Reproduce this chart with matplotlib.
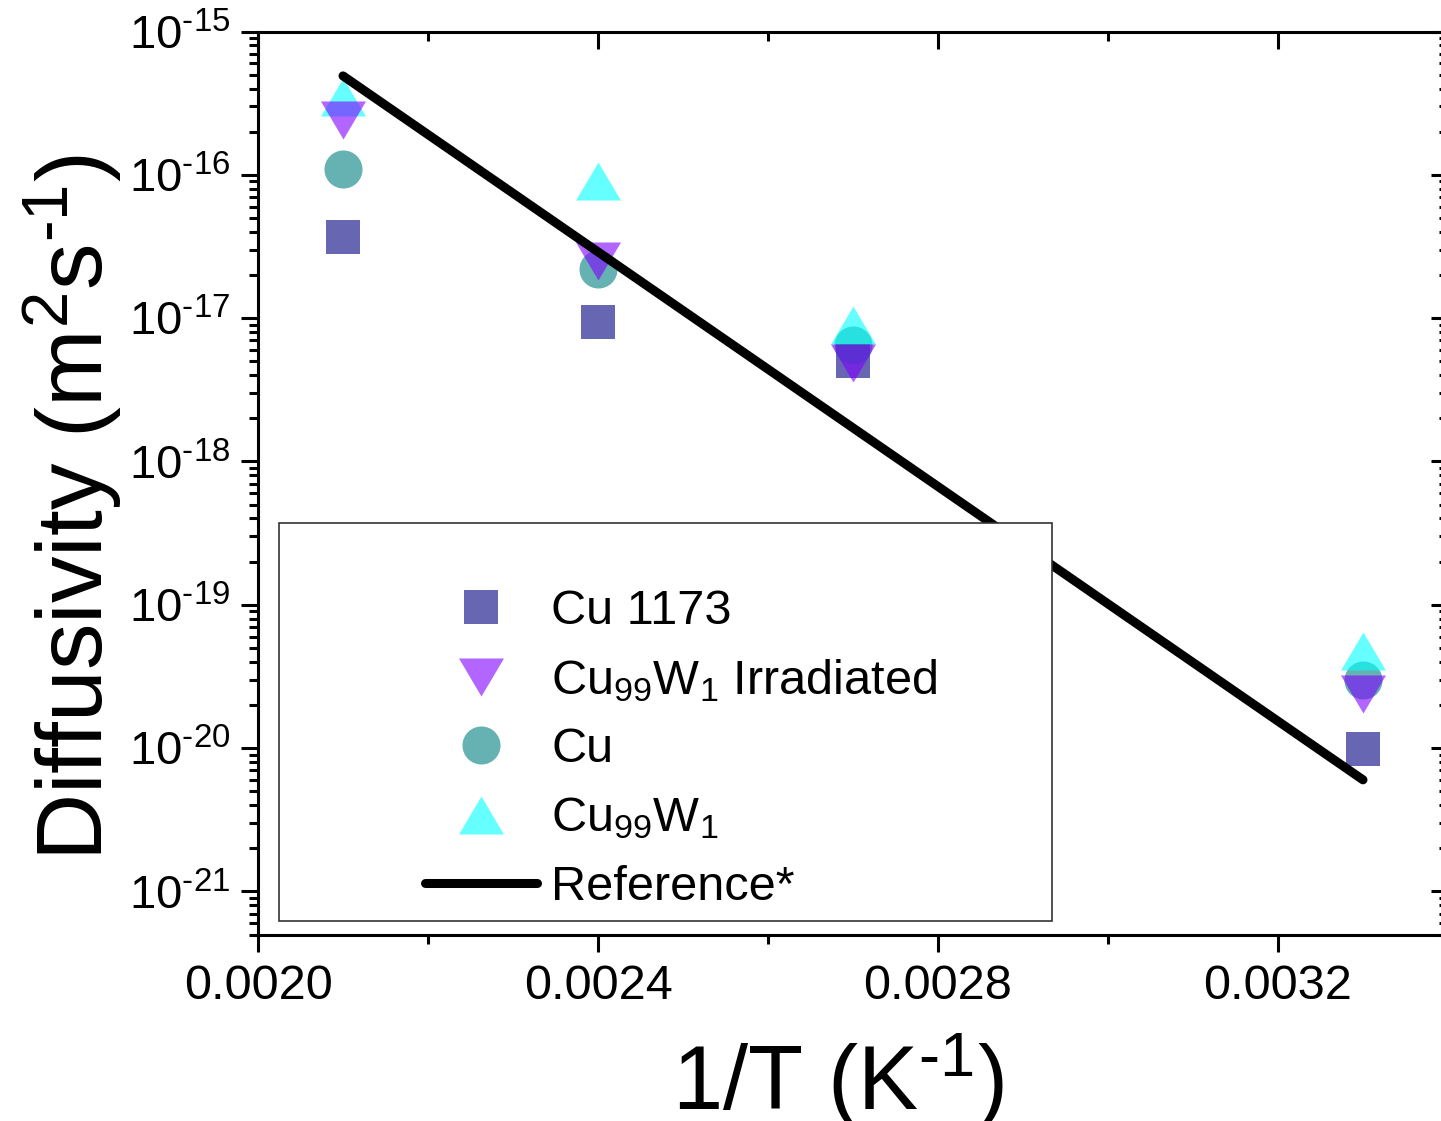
import numpy as np
import matplotlib
matplotlib.use("Agg")
import matplotlib.pyplot as plt
from matplotlib.patches import Rectangle
from matplotlib.ticker import MultipleLocator, FormatStrFormatter, LogLocator, FuncFormatter

plt.rcParams['font.family'] = ['Liberation Sans', 'DejaVu Sans']
plt.rcParams['mathtext.fontset'] = 'custom'
plt.rcParams['mathtext.rm'] = 'Liberation Sans'
plt.rcParams['mathtext.it'] = 'Liberation Sans:italic'
plt.rcParams['mathtext.bf'] = 'Liberation Sans:bold'

# data
inv_T = [0.0021, 0.0024, 0.0027, 0.0033]
cu_1173 = [3.7e-17, 9.4e-18, 5.0e-18, 9.9e-21]
cu = [1.09e-16, 2.2e-17, 6.5e-18, 3.0e-20]
cu99w1 = [3.5e-16, 9.1e-17, 8.9e-18, 4.75e-20]
cu99w1_irr = [2.4e-16, 2.5e-17, 4.9e-18, 2.4e-20]
ref_x = [0.0021, 0.0033]
ref_y = [4.9e-16, 6.0e-21]

lbl_1173 = "Cu 1173"
lbl_irr = r"Cu$_{99}$W$_{1}$ Irradiated"
lbl_cu = "Cu"
lbl_cuw = r"Cu$_{99}$W$_{1}$"
lbl_ref = "Reference*"

DPI = 100
W, H = 1441, 1121
fig = plt.figure(figsize=(W / DPI, H / DPI), dpi=DPI)
# right spine falls just outside the picture, as in the original
ax = fig.add_axes([258 / W, 1 - 934.5 / H, 1190 / W, 903 / H])

alpha = 0.6
up_tri = [(0, 0.845), (-1, -0.845), (1, -0.845)]
down_tri = [(0, -0.845), (-1, 0.845), (1, 0.845)]

h_sq, = ax.plot(inv_T, cu_1173, ls='none', marker='s', ms=23.8, mew=0,
                color='#000080', alpha=alpha, zorder=2)
h_ci, = ax.plot(inv_T, cu, ls='none', marker='o', ms=27.4, mew=0,
                color='#008080', alpha=alpha, zorder=2.1)
h_up, = ax.plot(inv_T, cu99w1, ls='none', marker=up_tri, ms=32.4, mew=0,
                color='#00FFFF', alpha=alpha, zorder=2.2)
h_dn, = ax.plot(inv_T, cu99w1_irr, ls='none', marker=down_tri, ms=32.4, mew=0,
                color='#8000FF', alpha=alpha, zorder=2.3)
h_ln, = ax.plot(ref_x, ref_y, color='black', lw=6.5, solid_capstyle='round',
                zorder=3)

ax.set_yscale('log')
ax.set_xlim(0.0020, 0.0034)
ax.set_ylim(5e-22, 1e-15)


def log_label(v, pos):
    e = int(round(np.log10(v)))
    s = str(e).replace('-', r'\text{-}')
    return r'10$^{%s}$' % s


ax.xaxis.set_major_locator(MultipleLocator(0.0004))
ax.xaxis.set_minor_locator(MultipleLocator(0.0002))
ax.xaxis.set_major_formatter(FormatStrFormatter('%.4f'))
ax.yaxis.set_major_locator(LogLocator(base=10, numticks=20))
ax.yaxis.set_minor_locator(LogLocator(base=10, subs=np.arange(2, 10), numticks=20))
ax.yaxis.set_major_formatter(FuncFormatter(log_label))

for s in ax.spines.values():
    s.set_linewidth(2.2)

ax.tick_params(axis='both', which='major', length=12, width=2.2)
ax.tick_params(axis='both', which='minor', length=6.5, width=2.2)
ax.tick_params(axis='x', which='both', direction='out', top=True, pad=9, labelsize=35)
ax.tick_params(axis='y', which='both', direction='out', right=True, pad=8, labelsize=34)
# mirrored ticks on top/right point inward
for t in ax.xaxis.get_major_ticks() + ax.xaxis.get_minor_ticks():
    t.tick2line.set_marker(3)
for t in ax.yaxis.get_major_ticks() + ax.yaxis.get_minor_ticks():
    t.tick2line.set_marker(0)

ax.set_xlabel(r"1/T (K$^{\text{-}1}$)", fontsize=65, va='baseline')
ax.set_ylabel(r"Diffusivity (m$^{2}$s$^{\text{-}1}$)", fontsize=67, va='baseline')
ax.xaxis.set_label_coords(0.487, -0.194)
ax.yaxis.set_label_coords(-0.130, 0.473)

# white legend box
box = Rectangle((0.0176, 0.015), 0.6495, 0.4405, transform=ax.transAxes,
                facecolor='white', edgecolor='#333333', lw=1.2, zorder=4)
ax.add_patch(box)

leg = ax.legend([h_sq, h_dn, h_ci, h_up, h_ln],
                [lbl_1173, lbl_irr, lbl_cu, lbl_cuw, lbl_ref],
                loc='upper left', bbox_to_anchor=((425 - 258) / 1190, (934.5 - 589) / 903),
                frameon=False, fontsize=35, borderpad=0, borderaxespad=0,
                handlelength=2.3, handletextpad=0.3, labelspacing=0.48,
                markerscale=1.0)
leg.set_zorder(5)

fig.savefig("out.png", dpi=DPI)
